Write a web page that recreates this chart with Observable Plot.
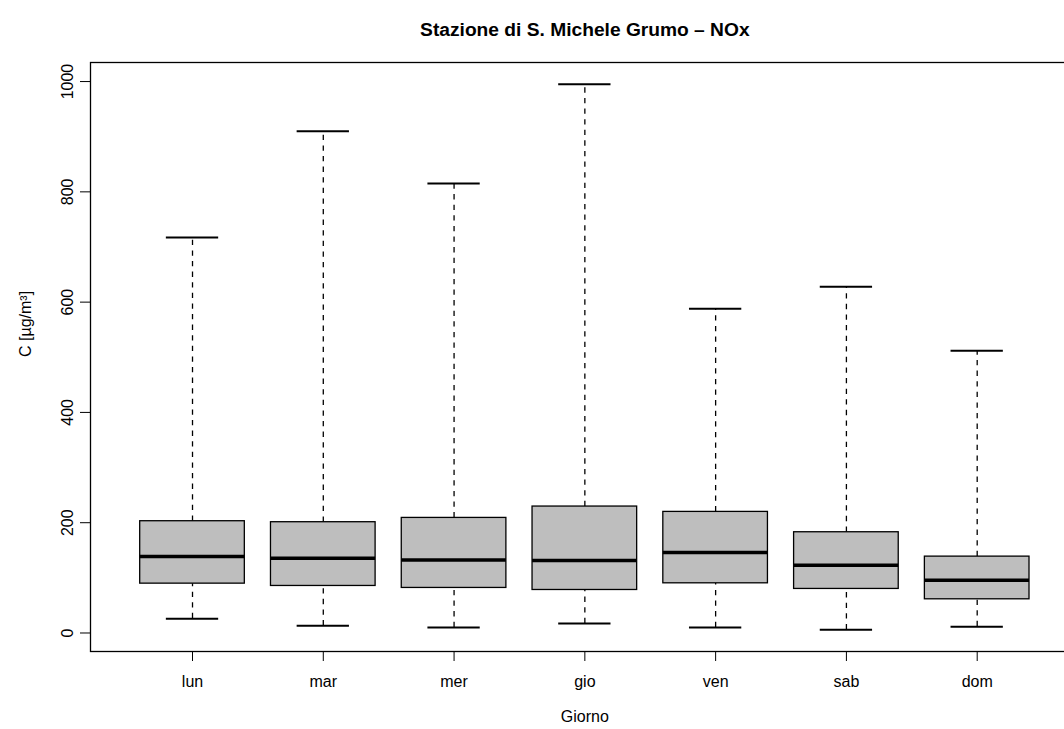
<!DOCTYPE html>
<html>
<head>
<meta charset="utf-8">
<script src="https://cdn.jsdelivr.net/npm/d3@7"></script>
<script src="https://cdn.jsdelivr.net/npm/@observablehq/plot@0.6"></script>
<style>
  html, body { margin: 0; padding: 0; background: white; overflow: hidden; }
  #chart { width: 1064px; height: 729px; overflow: hidden; }
  #chart svg { max-width: none; }
</style>
</head>
<body>
<div id="chart"></div>
<script>
const title = "Stazione di S. Michele Grumo \u2013 NOx";
const xLabel = "Giorno";
const yLabel = "C [\u00b5g/m\u00b3]";
const days = ["lun", "mar", "mer", "gio", "ven", "sab", "dom"];
const whiskerLow = [26, 13, 10, 17, 10, 6, 11.5];
const q1 = [89.5, 85.3, 81.7, 78, 90.1, 79.9, 61.1];
const median = [138.5, 135.6, 132.5, 131.3, 145.8, 122.8, 95.6];
const q3 = [202.7, 200.9, 208.7, 229.3, 219.6, 182.7, 138.5];
const whiskerHigh = [717, 910, 815, 995, 588, 628, 512];
const yTicks = [0, 200, 400, 600, 800, 1000];

const data = days.map((d, i) => ({
  day: d, pos: i + 1,
  lo: whiskerLow[i], q1: q1[i], med: median[i], q3: q3[i], hi: whiskerHigh[i]
}));

const boxHalf = 0.4, capHalf = 0.2;
const lo = d3.min(whiskerLow), hi = d3.max(whiskerHigh);
const ext = (hi - lo) * 0.04;
const n = days.length;
const xext = n * 0.04;

const chart = Plot.plot({
  width: 1100,
  height: 729,
  marginLeft: 90,
  marginRight: 21.3,
  marginTop: 62,
  marginBottom: 78,
  style: { fontFamily: "'Liberation Sans', Arial, Helvetica, sans-serif", fontSize: "16px", background: "white", color: "black" },
  x: { type: "linear", domain: [0.5 - xext, n + 0.5 + xext] },
  y: { domain: [lo - ext, hi + ext] },
  marks: [
    Plot.ruleX(data, { x: "pos", y1: "q3", y2: "hi", stroke: "black", strokeWidth: 1.3, strokeDasharray: "5.3,5.3" }),
    Plot.ruleX(data, { x: "pos", y1: "lo", y2: "q1", stroke: "black", strokeWidth: 1.3, strokeDasharray: "5.3,5.3" }),
    Plot.rect(data, { x1: d => d.pos - boxHalf, x2: d => d.pos + boxHalf, y1: "q1", y2: "q3", fill: "#bebebe", stroke: "black", strokeWidth: 1.3 }),
    Plot.ruleY(data, { y: "med", x1: d => d.pos - boxHalf, x2: d => d.pos + boxHalf, stroke: "black", strokeWidth: 3.5 }),
    Plot.ruleY(data, { y: "hi", x1: d => d.pos - capHalf, x2: d => d.pos + capHalf, stroke: "black", strokeWidth: 2 }),
    Plot.ruleY(data, { y: "lo", x1: d => d.pos - capHalf, x2: d => d.pos + capHalf, stroke: "black", strokeWidth: 2 }),
    Plot.frame({ stroke: "black", strokeWidth: 1.3 }),
    Plot.axisX({ ticks: data.map(d => d.pos), tickFormat: p => days[Math.round(p) - 1], tickSize: 10, tickPadding: 14, label: null, fontSize: 16 }),
    Plot.axisY({ ticks: yTicks, tickSize: 10, tickRotate: -90, tickPadding: 8, tickFormat: d => String(d), label: null, fontSize: 16 }),
    Plot.text([title], { text: d => d, frameAnchor: "top", dy: -40, fontWeight: "bold", fontSize: 19.2 }),
    Plot.text([xLabel], { text: d => d, frameAnchor: "bottom", dy: 70, fontSize: 16 }),
    Plot.text([yLabel], { text: d => d, frameAnchor: "left", dx: -65, rotate: -90, fontSize: 16 })
  ]
});
document.getElementById("chart").appendChild(chart);
</script>
</body>
</html>
